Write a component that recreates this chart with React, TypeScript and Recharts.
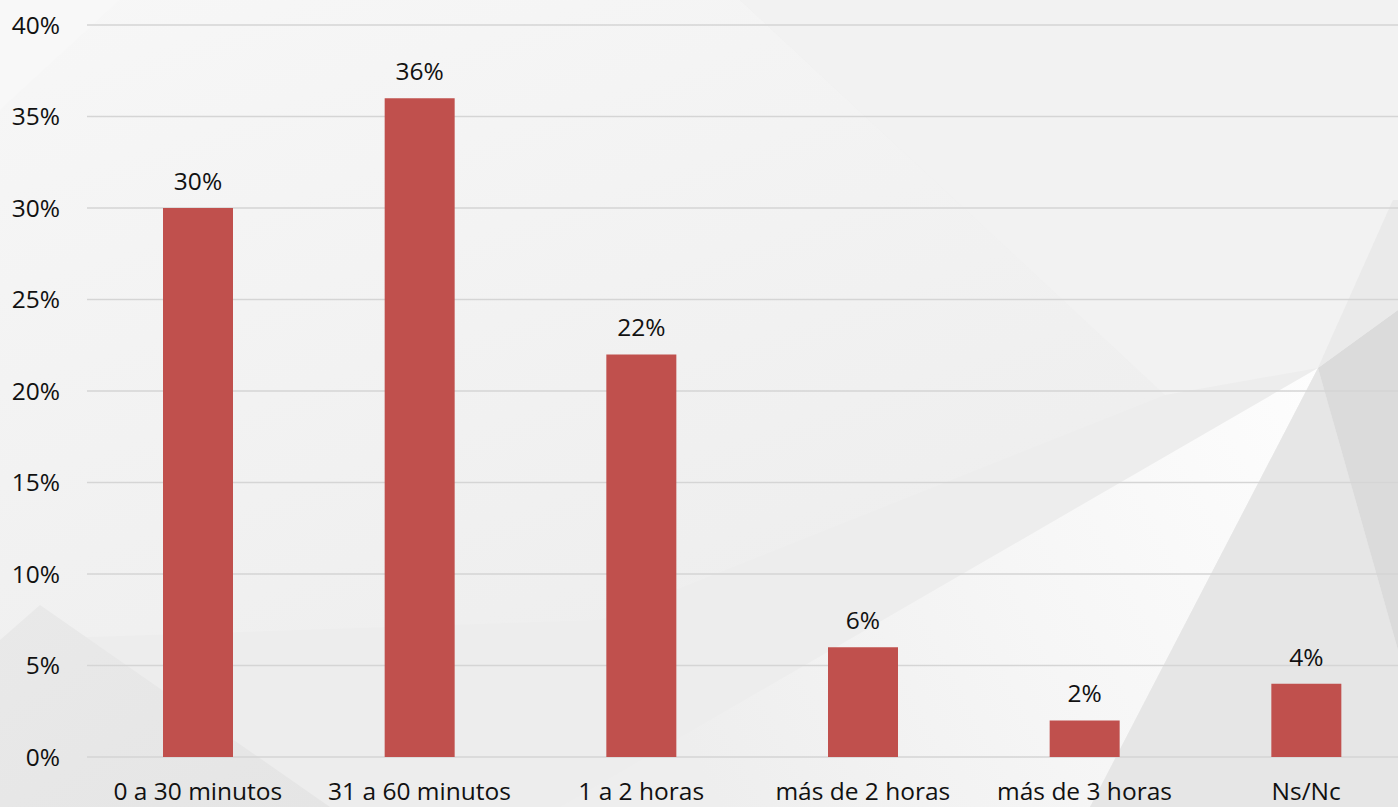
import React from "react";
import { BarChart, Bar, XAxis, YAxis, CartesianGrid, LabelList } from "recharts";

const categories = ["0 a 30 minutos", "31 a 60 minutos", "1 a 2 horas", "más de 2 horas", "más de 3 horas", "Ns/Nc"];
const values = [30, 36, 22, 6, 2, 4];
const yTicks = [0, 5, 10, 15, 20, 25, 30, 35, 40];

const data = categories.map((c, i) => ({ name: c, value: values[i] }));

const FONT = "'Open Sans', 'Noto Sans', sans-serif";
const pct = (v: number) => `${v}%`;

function Background() {
  return (
    <svg width={1398} height={807} style={{ position: "absolute", left: 0, top: 0 }}>
      <defs>
        <linearGradient id="tl" x1="0" y1="0" x2="0.6" y2="1">
          <stop offset="0" stopColor="#F7F7F7" />
          <stop offset="1" stopColor="#EEEEEE" />
        </linearGradient>
        <linearGradient id="wedge" x1="1" y1="0" x2="0" y2="0.3">
          <stop offset="0" stopColor="#FDFDFD" />
          <stop offset="0.5" stopColor="#F6F6F6" />
          <stop offset="1" stopColor="#EEEEEE" />
        </linearGradient>
        <linearGradient id="bl" x1="0" y1="0" x2="1" y2="1">
          <stop offset="0" stopColor="#E9E9E9" />
          <stop offset="1" stopColor="#E5E5E5" />
        </linearGradient>
      </defs>
      <rect x={0} y={0} width={1398} height={807} fill="#EDEDED" />
      <polygon points="0,0 740,0 1165,395 600,620 0,640" fill="url(#tl)" />
      <polygon points="740,0 1398,0 1398,200 1393,200 1318,368 1165,395" fill="#F2F2F2" />
      <polygon points="0,0 120,0 0,110" fill="#F8F8F8" />
      <polygon points="1318,368 560,807 1090,807" fill="url(#wedge)" />
      <polygon points="1318,368 1090,807 1398,807 1398,650" fill="#E6E6E6" />
      <polygon points="1318,368 1398,310 1398,650" fill="#DBDBDB" />
      <polygon points="1318,368 1393,200 1398,200 1398,310" fill="#EAEAEA" />
      <polygon points="0,640 40,605 330,807 0,807" fill="url(#bl)" />
    </svg>
  );
}

export default function App() {
  return (
    <div style={{ position: "fixed", left: 0, top: 0, width: 1398, height: 807, overflow: "hidden", fontFamily: FONT }}>
      <Background />
      <div style={{ position: "absolute", left: 0, top: 0 }}>
        <BarChart width={1420} height={807} data={data} margin={{ top: 25, right: 3, left: 7, bottom: 0 }} barSize={70}>
          <CartesianGrid vertical={false} stroke="#D5D5D5" strokeWidth={1.5} />
          <XAxis
            dataKey="name"
            axisLine={false}
            tickLine={false}
            tickSize={0}
            tickMargin={26}
            height={50}
            interval={0}
            tick={{ fill: "#111", fontSize: 24.5, fontFamily: FONT }}
          />
          <YAxis
            domain={[0, 40]}
            ticks={yTicks}
            tickFormatter={pct}
            axisLine={false}
            tickLine={false}
            tickSize={0}
            tickMargin={27}
            width={80}
            tick={{ fill: "#111", fontSize: 24.5, fontFamily: FONT }}
          />
          <Bar dataKey="value" fill="#C0504D" isAnimationActive={false}>
            <LabelList dataKey="value" position="top" offset={18} formatter={pct} fill="#111" fontSize={24.5} fontFamily={FONT} />
          </Bar>
        </BarChart>
      </div>
    </div>
  );
}
